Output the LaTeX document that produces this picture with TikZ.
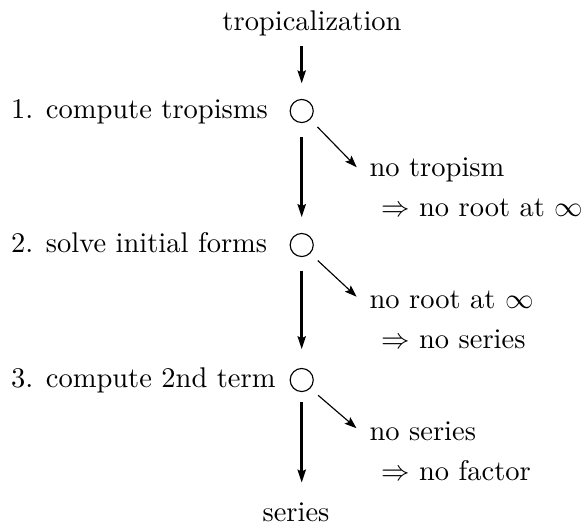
\documentclass[tikz,border=0pt]{standalone}
\usepackage{tikz}
\usetikzlibrary{arrows.meta,positioning}

\begin{document}
\begin{tikzpicture}[x=0.3509pt,y=-0.3509pt,
  lbl/.style={anchor=base west},
  ctr/.style={anchor=base},
  dot/.style={draw,circle,minimum size=8.1pt,inner sep=0pt},
  main/.style={-{Stealth[length=4.5pt,width=2.8pt,inset=0.6pt]},line width=1.2pt},
  side/.style={-{Stealth[length=4.2pt,width=3pt,inset=0.8pt]},shorten <=3.6pt,shorten >=1.4pt}]
\useasboundingbox (0,0) rectangle (588,525);
\node[ctr] (top) at (312,30.7) {tropicalization};
\node[dot] (c1) at (301.7,111) {};
\node[dot] (c2) at (301.7,245) {};
\node[dot] (c3) at (301.7,380) {};
\node[ctr] (ser) at (296,521.7) {series};
% steps
\node[lbl] (s1) at (1,118.5) {1. compute tropisms};
\node[lbl] (s2) at (1,252) {2. solve initial forms};
\node[lbl] (s3) at (1,387) {3. compute 2nd term};
% exits
\node[lbl] (n1) at (359.5,176.7) {no tropism};
\node[lbl] (m1) at (371,216.7) {$\Rightarrow$ no root at $\infty$};
\node[lbl] (n2) at (359.5,308) {no root at $\infty$};
\node[lbl] (m2) at (371,348) {$\Rightarrow$ no series};
\node[lbl] (n3) at (359.5,440) {no series};
\node[lbl] (m3) at (371,480) {$\Rightarrow$ no factor};
\draw[main,shorten >=5.4pt] (c1 |- top.south) -- (c1.north);
\draw[main,shorten <=5pt,shorten >=5.5pt] (c1.south) -- (c2.north);
\draw[main,shorten <=4.7pt,shorten >=6.5pt] (c2.south) -- (c3.north);
\draw[main,shorten <=3.6pt,shorten >=3.6pt] (c3.south) -- (c3 |- ser.north);
\draw[side] (c1.-45) -- (n1.west);
\draw[side] (c2.-45) -- (n2.west);
\draw[side] (c3.-45) -- (n3.west);
\end{tikzpicture}
\end{document}
